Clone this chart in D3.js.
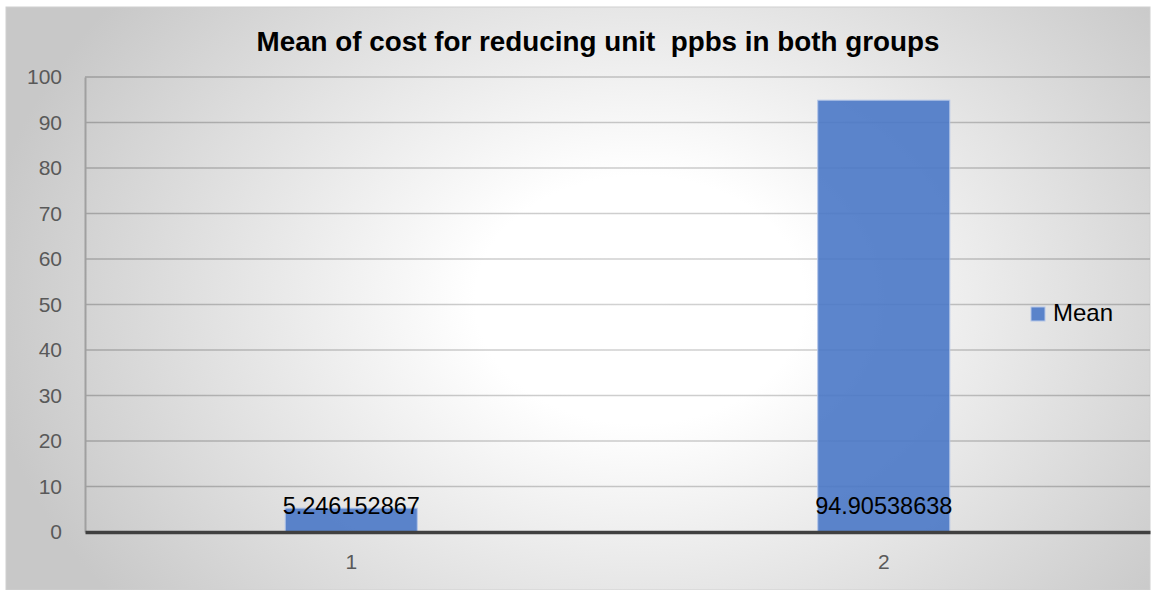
<!DOCTYPE html>
<html><head><meta charset="utf-8">
<script src="https://cdn.jsdelivr.net/npm/d3@7"></script>
<style>body{margin:0;background:#fff}svg{display:block}</style>
</head><body>
<script>
const categories = ["1", "2"];
const meanValues = [5.246152867, 94.90538638];
const valueLabels = ["5.246152867", "94.90538638"];
const yTicks = [0, 10, 20, 30, 40, 50, 60, 70, 80, 90, 100];
const seriesName = "Mean";
const titleText = "Mean of cost for reducing unit  ppbs in both groups";

const W = 1153, H = 590;
const svg = d3.select("body").append("svg").attr("width", W).attr("height", H);
const defs = svg.append("defs");
const bg = defs.append("radialGradient").attr("id", "bg")
  .attr("gradientUnits", "userSpaceOnUse").attr("cx", 640).attr("cy", 300).attr("r", 660)
  .attr("gradientTransform", "translate(640,300) scale(1,0.75) translate(-640,-300)");
bg.append("stop").attr("offset", "0%").attr("stop-color", "#ffffff");
bg.append("stop").attr("offset", "25%").attr("stop-color", "#ffffff");
bg.append("stop").attr("offset", "100%").attr("stop-color", "#c8c8c8");
const gg = defs.append("radialGradient").attr("id", "gridg")
  .attr("gradientUnits", "userSpaceOnUse").attr("cx", 640).attr("cy", 300).attr("r", 660)
  .attr("gradientTransform", "translate(640,300) scale(1,0.75) translate(-640,-300)");
gg.append("stop").attr("offset", "0%").attr("stop-color", "#d2d2d2");
gg.append("stop").attr("offset", "25%").attr("stop-color", "#cdcdcd");
gg.append("stop").attr("offset", "100%").attr("stop-color", "#9a9a9a");

svg.append("rect").attr("x", 6).attr("y", 7).attr("width", 1144).attr("height", 583)
  .attr("fill", "url(#bg)").attr("stroke", "#d0d0d0").attr("stroke-width", 1);

const x0 = 85, x1 = 1150, yTop = 77, yBot = 532;
const x = d3.scaleBand().domain(categories).range([x0, x1]).padding(0);
const y = d3.scaleLinear().domain([0, 100]).range([yBot, yTop]);
const barW = x.bandwidth() * 0.248;

// gridlines
svg.append("g").selectAll("line").data(yTicks.filter(d => d > 0)).join("line")
  .attr("x1", x0).attr("x2", x1).attr("y1", d => y(d)).attr("y2", d => y(d))
  .attr("stroke", "url(#gridg)").attr("stroke-width", 1.5);

// y axis
const yAxis = svg.append("g").attr("transform", `translate(${x0},0)`)
  .call(d3.axisLeft(y).tickValues(yTicks).tickSize(0).tickPadding(23).tickFormat(d3.format("d")));
yAxis.select(".domain").attr("stroke", "#a0a0a0").attr("stroke-width", 2);
yAxis.selectAll("text").attr("font-family", "Liberation Sans, Arial, sans-serif")
  .attr("font-size", 21).attr("fill", "#595959");

// bars
svg.append("g").selectAll("rect").data(meanValues).join("rect")
  .attr("x", (d, i) => x(categories[i]) + x.bandwidth() / 2 - barW / 2)
  .attr("y", d => y(d)).attr("width", barW).attr("height", d => yBot - y(d))
  .attr("fill", "#4a78c6").attr("fill-opacity", 0.9)
  .attr("stroke", "#b4c6e8").attr("stroke-width", 1);

// x axis
const xAxis = svg.append("g").attr("transform", `translate(0,${yBot})`)
  .call(d3.axisBottom(x).tickSize(0).tickPadding(22));
xAxis.select(".domain").attr("stroke", "#404040").attr("stroke-width", 3.5);
xAxis.selectAll("text").attr("font-family", "Liberation Sans, Arial, sans-serif")
  .attr("font-size", 21).attr("fill", "#595959");

// data labels
svg.append("g").selectAll("text").data(valueLabels).join("text")
  .attr("x", (d, i) => x(categories[i]) + x.bandwidth() / 2)
  .attr("y", 514).attr("text-anchor", "middle")
  .attr("font-family", "Liberation Sans, Arial, sans-serif").attr("font-size", 23.5)
  .attr("fill", "#000").text(d => d);

// title
svg.append("text").attr("x", 598).attr("y", 51).attr("text-anchor", "middle")
  .style("white-space", "pre").attr("xml:space", "preserve")
  .attr("font-family", "Liberation Sans, Arial, sans-serif").attr("font-weight", "bold")
  .attr("font-size", 28).attr("textLength", 683).attr("lengthAdjust", "spacingAndGlyphs")
  .attr("fill", "#000").text(titleText);

// legend
const lg = svg.append("g");
lg.append("rect").attr("x", 1031).attr("y", 307).attr("width", 14).attr("height", 14)
  .attr("fill", "#4a78c6").attr("fill-opacity", 0.9).attr("stroke", "#b4c6e8");
lg.append("text").attr("x", 1053).attr("y", 321)
  .attr("font-family", "Liberation Sans, Arial, sans-serif").attr("font-size", 24)
  .attr("fill", "#000").text(seriesName);
</script>
</body></html>
